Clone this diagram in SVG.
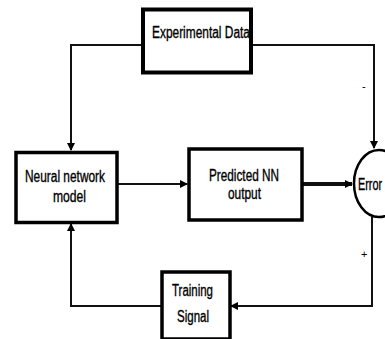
<svg xmlns="http://www.w3.org/2000/svg" width="385" height="339" viewBox="0 0 385 339">
<style>
.box{fill:#fff;stroke:#000;stroke-width:3.5}
.ln{fill:none;stroke:#111;stroke-width:2}
.t{font-family:"Liberation Sans",Arial,sans-serif;font-size:16px;fill:#000;stroke:#000;stroke-width:0.35}
</style>
<defs>
<marker id="ah" markerWidth="8" markerHeight="8" refX="7" refY="4" orient="auto" markerUnits="userSpaceOnUse">
<path d="M0,0 L8,4 L0,8 Z" fill="#000"/>
</marker>
</defs>
<rect width="385" height="339" fill="#fff"/>
<g id="connectors">
<path class="ln" d="M142,45 H71 V150" marker-end="url(#ah)"/>
<path class="ln" d="M250,45 H374 V148" marker-end="url(#ah)"/>
<path class="ln" d="M117,184 H187" marker-end="url(#ah)"/>
<path class="ln" style="stroke-width:4" d="M302,184 H352" marker-end="url(#ah)"/>
<path class="ln" d="M372,217 V306 H231" marker-end="url(#ah)"/>
<path class="ln" d="M161,306 H71 V224" marker-end="url(#ah)"/>
<text class="t" x="362" y="90" style="font-size:11px;stroke-width:0">-</text>
<text class="t" x="361" y="258" style="font-size:11px;stroke-width:0">+</text>
</g>
<g id="experimental">
<rect class="box" x="143" y="9.5" width="108" height="63" style="stroke-width:4"/>
<text class="t" x="152" y="38" textLength="98" lengthAdjust="spacingAndGlyphs">Experimental Data</text>
</g>
<g id="nnmodel">
<rect class="box" x="16" y="152.5" width="101" height="70"/>
<text class="t" x="25" y="182" textLength="80" lengthAdjust="spacingAndGlyphs">Neural network</text>
<text class="t" x="53" y="202" textLength="33" lengthAdjust="spacingAndGlyphs">model</text>
</g>
<g id="predicted">
<rect class="box" x="189" y="149" width="113" height="71" style="stroke-width:3.5"/>
<text class="t" x="209" y="181" textLength="70" lengthAdjust="spacingAndGlyphs">Predicted NN</text>
<text class="t" x="228" y="199" textLength="33" lengthAdjust="spacingAndGlyphs">output</text>
</g>
<g id="error">
<ellipse cx="379" cy="183.5" rx="25" ry="33.5" fill="#fff" stroke="#000" stroke-width="2.5"/>
<text class="t" transform="translate(358,190) scale(0.68,1)">Error</text>
</g>
<g id="training">
<rect class="box" x="162" y="272" width="68" height="67"/>
<text class="t" x="172" y="296" textLength="41" lengthAdjust="spacingAndGlyphs">Training</text>
<text class="t" x="177" y="322" textLength="32" lengthAdjust="spacingAndGlyphs">Signal</text>
</g>
</svg>
